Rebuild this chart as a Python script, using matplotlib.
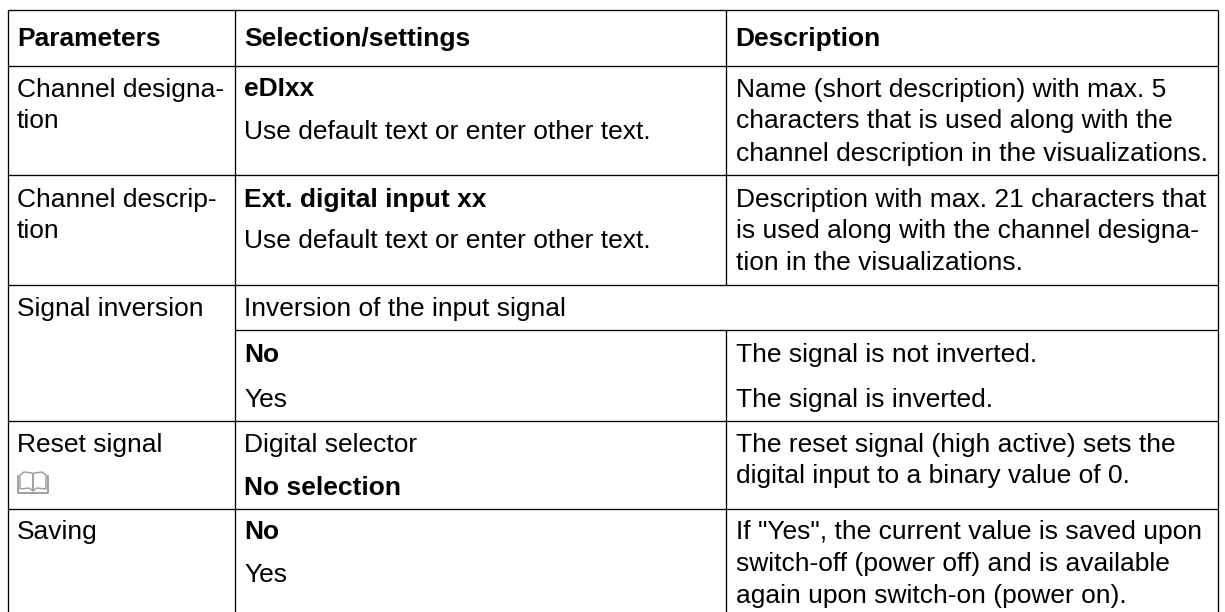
#!/usr/bin/env python3

import matplotlib.pyplot as plt
from matplotlib.patches import Polygon

plt.rcParams["font.family"] = ["Liberation Sans", "DejaVu Sans"]

W, H = 1225, 612
FS = 19.0

# column x positions and rule positions, in image pixels
col_x = [8, 235, 726, 1218]
text_x = [17, 244, 735.5]
row_y = [10, 66, 175, 285, 421, 509]
inner_y = 330

headers = ["Parameters", "Selection/settings", "Description"]

# (column, baseline y, text, bold)
cells = [
    (0, 96.5, "Channel designa-", False),
    (0, 128, "tion", False),
    (0, 206.5, "Channel descrip-", False),
    (0, 238, "tion", False),
    (0, 316, "Signal inversion", False),
    (0, 452, "Reset signal", False),
    (0, 539, "Saving", False),
    (1, 96.5, "eDIxx", True),
    (1, 139, "Use default text or enter other text.", False),
    (1, 206.5, "Ext. digital input xx", True),
    (1, 248, "Use default text or enter other text.", False),
    (1, 316, "Inversion of the input signal", False),
    (1, 362, "No", True),
    (1, 407, "Yes", False),
    (1, 452, "Digital selector", False),
    (1, 495, "No selection", True),
    (1, 539, "No", True),
    (1, 582, "Yes", False),
    (2, 96.5, "Name (short description) with max. 5", False),
    (2, 128, "characters that is used along with the", False),
    (2, 160.5, "channel description in the visualizations.", False),
    (2, 206.5, "Description with max. 21 characters that", False),
    (2, 238, "is used along with the channel designa-", False),
    (2, 270.5, "tion in the visualizations.", False),
    (2, 362, "The signal is not inverted.", False),
    (2, 407, "The signal is inverted.", False),
    (2, 452, "The reset signal (high active) sets the", False),
    (2, 483, "digital input to a binary value of 0.", False),
    (2, 539, 'If "Yes", the current value is saved upon', False),
    (2, 571, "switch-off (power off) and is available", False),
    (2, 603, "again upon switch-on (power on).", False),
]


def draw_book(ax, x, y):
    # open book symbol below "Reset signal"
    grey = "#9a9a9a"
    left = [(x + 2, y + 3), (x + 6, y), (x + 14, y + 1), (x + 15, y + 3), (x + 15, y + 19), (x + 11, y + 16), (x + 2, y + 17)]
    right = [(x + 28, y + 3), (x + 24, y), (x + 16, y + 1), (x + 15, y + 3), (x + 15, y + 19), (x + 19, y + 16), (x + 28, y + 17)]
    ax.add_patch(Polygon(left, closed=True, fill=False, edgecolor=grey, lw=1.0))
    ax.add_patch(Polygon(right, closed=True, fill=False, edgecolor=grey, lw=1.0))
    ax.plot([x, x, x + 30, x + 30], [y + 4, y + 21, y + 21, y + 4], color=grey, lw=1.3)


fig = plt.figure(figsize=(W / 100, H / 100), dpi=100)
ax = fig.add_axes([0, 0, 1, 1])
ax.set_xlim(0, W)
ax.set_ylim(H, 0)
ax.axis("off")

lw = 0.95
line = dict(color="black", lw=lw, solid_capstyle="butt")

# outer frame, the table runs off the bottom edge of the picture
for x in [col_x[0], col_x[1], col_x[3]]:
    ax.plot([x, x], [row_y[0], H], **line)
for y in row_y:
    ax.plot([col_x[0], col_x[3]], [y, y], **line)

# third column rule is interrupted by the merged inversion cell
ax.plot([col_x[2], col_x[2]], [row_y[0], row_y[3]], **line)
ax.plot([col_x[2], col_x[2]], [inner_y, H], **line)
ax.plot([col_x[1], col_x[3]], [inner_y, inner_y], **line)

for x, label in zip(text_x, headers):
    ax.text(x, 46, label, fontsize=FS, fontweight="bold", va="baseline", color="black")

for col, y, label, bold in cells:
    ax.text(text_x[col], y, label, fontsize=FS, va="baseline", color="black",
            fontweight="bold" if bold else "normal")

draw_book(ax, 18, 472)

fig.savefig("out.png", dpi=100)
